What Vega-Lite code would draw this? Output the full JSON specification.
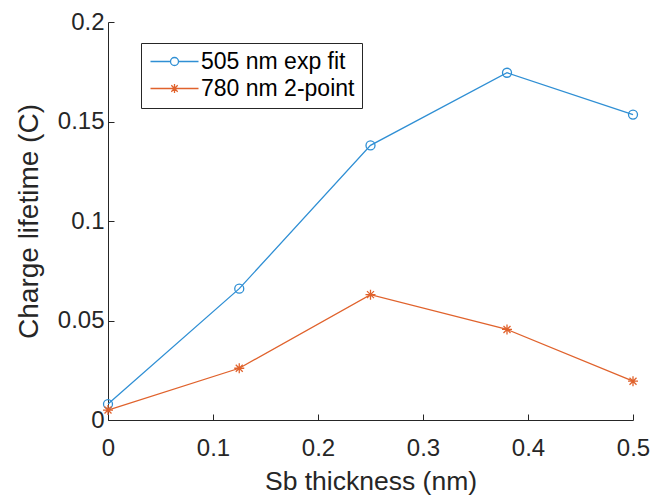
{
  "$schema": "https://vega.github.io/schema/vega-lite/v6.json",
  "width": 525,
  "height": 398,
  "autosize": {"type": "none"},
  "padding": {"left": 108, "top": 22, "right": 21, "bottom": 76},
  "background": "white",
  "config": {
    "view": {"stroke": null},
    "font": "Liberation Sans",
    "axis": {
      "domainColor": "#262626",
      "tickColor": "#262626",
      "labelColor": "#262626",
      "titleColor": "#262626",
      "labelFont": "Liberation Sans",
      "titleFont": "Liberation Sans",
      "labelFontSize": 24,
      "titleFontWeight": "normal",
      "grid": false,
      "tickSize": -6,
      "domainWidth": 1,
      "tickWidth": 1
    }
  },
  "data": {
    "values": [
      {"x": 0, "y": 0.008, "series": "505 nm exp fit"},
      {"x": 0.125, "y": 0.066, "series": "505 nm exp fit"},
      {"x": 0.25, "y": 0.138, "series": "505 nm exp fit"},
      {"x": 0.38, "y": 0.1745, "series": "505 nm exp fit"},
      {"x": 0.5, "y": 0.1535, "series": "505 nm exp fit"},
      {"x": 0, "y": 0.005, "series": "780 nm 2-point"},
      {"x": 0.125, "y": 0.026, "series": "780 nm 2-point"},
      {"x": 0.25, "y": 0.063, "series": "780 nm 2-point"},
      {"x": 0.38, "y": 0.0455, "series": "780 nm 2-point"},
      {"x": 0.5, "y": 0.0195, "series": "780 nm 2-point"}
    ]
  },
  "encoding": {
    "x": {
      "field": "x", "type": "quantitative",
      "scale": {"domain": [0, 0.5], "nice": false, "zero": false},
      "axis": {"title": "Sb thickness (nm)", "titleFontSize": 26.5, "values": [0, 0.1, 0.2, 0.3, 0.4, 0.5], "format": "~g", "labelPadding": 22, "titlePadding": 8, "labelFlush": false}
    },
    "y": {
      "field": "y", "type": "quantitative",
      "scale": {"domain": [0, 0.2], "nice": false},
      "axis": {"title": "Charge lifetime (C)", "titleFontSize": 28, "values": [0, 0.05, 0.1, 0.15, 0.2], "format": "~g", "labelPadding": 10, "titlePadding": 14, "labelFlush": false}
    },
    "color": {
      "field": "series", "type": "nominal",
      "scale": {"domain": ["505 nm exp fit", "780 nm 2-point"], "range": ["#2F8FD4", "#E0622C"]},
      "legend": {
        "title": null,
        "orient": "none",
        "legendX": 33,
        "legendY": 21,
        "symbolSize": 400,
        "symbolStrokeWidth": 1.3,
        "symbolOpacity": 1,
        "symbolFillColor": "transparent",
        "labelFont": "Liberation Sans",
        "labelFontSize": 23,
        "labelColor": "#000000",
        "labelOffset": 30,
        "rowPadding": 3,
        "padding": 7,
        "strokeColor": "#262626",
        "fillColor": "white",
        "cornerRadius": 0
      }
    }
  },
  "layer": [
    {
      "mark": {"type": "line", "strokeWidth": 1.3}
    },
    {
      "transform": [{"filter": "datum.series === '505 nm exp fit'"}],
      "mark": {"type": "point", "shape": "circle", "filled": false, "size": 81, "strokeWidth": 1.3, "opacity": 1}
    },
    {
      "transform": [{"filter": "datum.series === '780 nm 2-point'"}],
      "mark": {"type": "point", "shape": "M-1,0H1M0,-1V1M-0.7,-0.7L0.7,0.7M-0.7,0.7L0.7,-0.7", "filled": false, "size": 100, "strokeWidth": 1.3, "opacity": 1}
    },
    {
      "mark": {"type": "point", "filled": false, "opacity": 0},
      "encoding": {
        "shape": {
          "field": "series", "type": "nominal",
          "scale": {"domain": ["505 nm exp fit", "780 nm 2-point"], "range": [
            "M-0.9,0H1.1M1.9,0H3.9M1.9,0A0.4,0.4 0 1 1 1.1,0A0.4,0.4 0 1 1 1.9,0",
            "M-0.9,0H3.9M1.5,-0.45V0.45M1.18,-0.32L1.82,0.32M1.18,0.32L1.82,-0.32"
          ]},
          "legend": {"title": null}
        }
      }
    }
  ]
}
